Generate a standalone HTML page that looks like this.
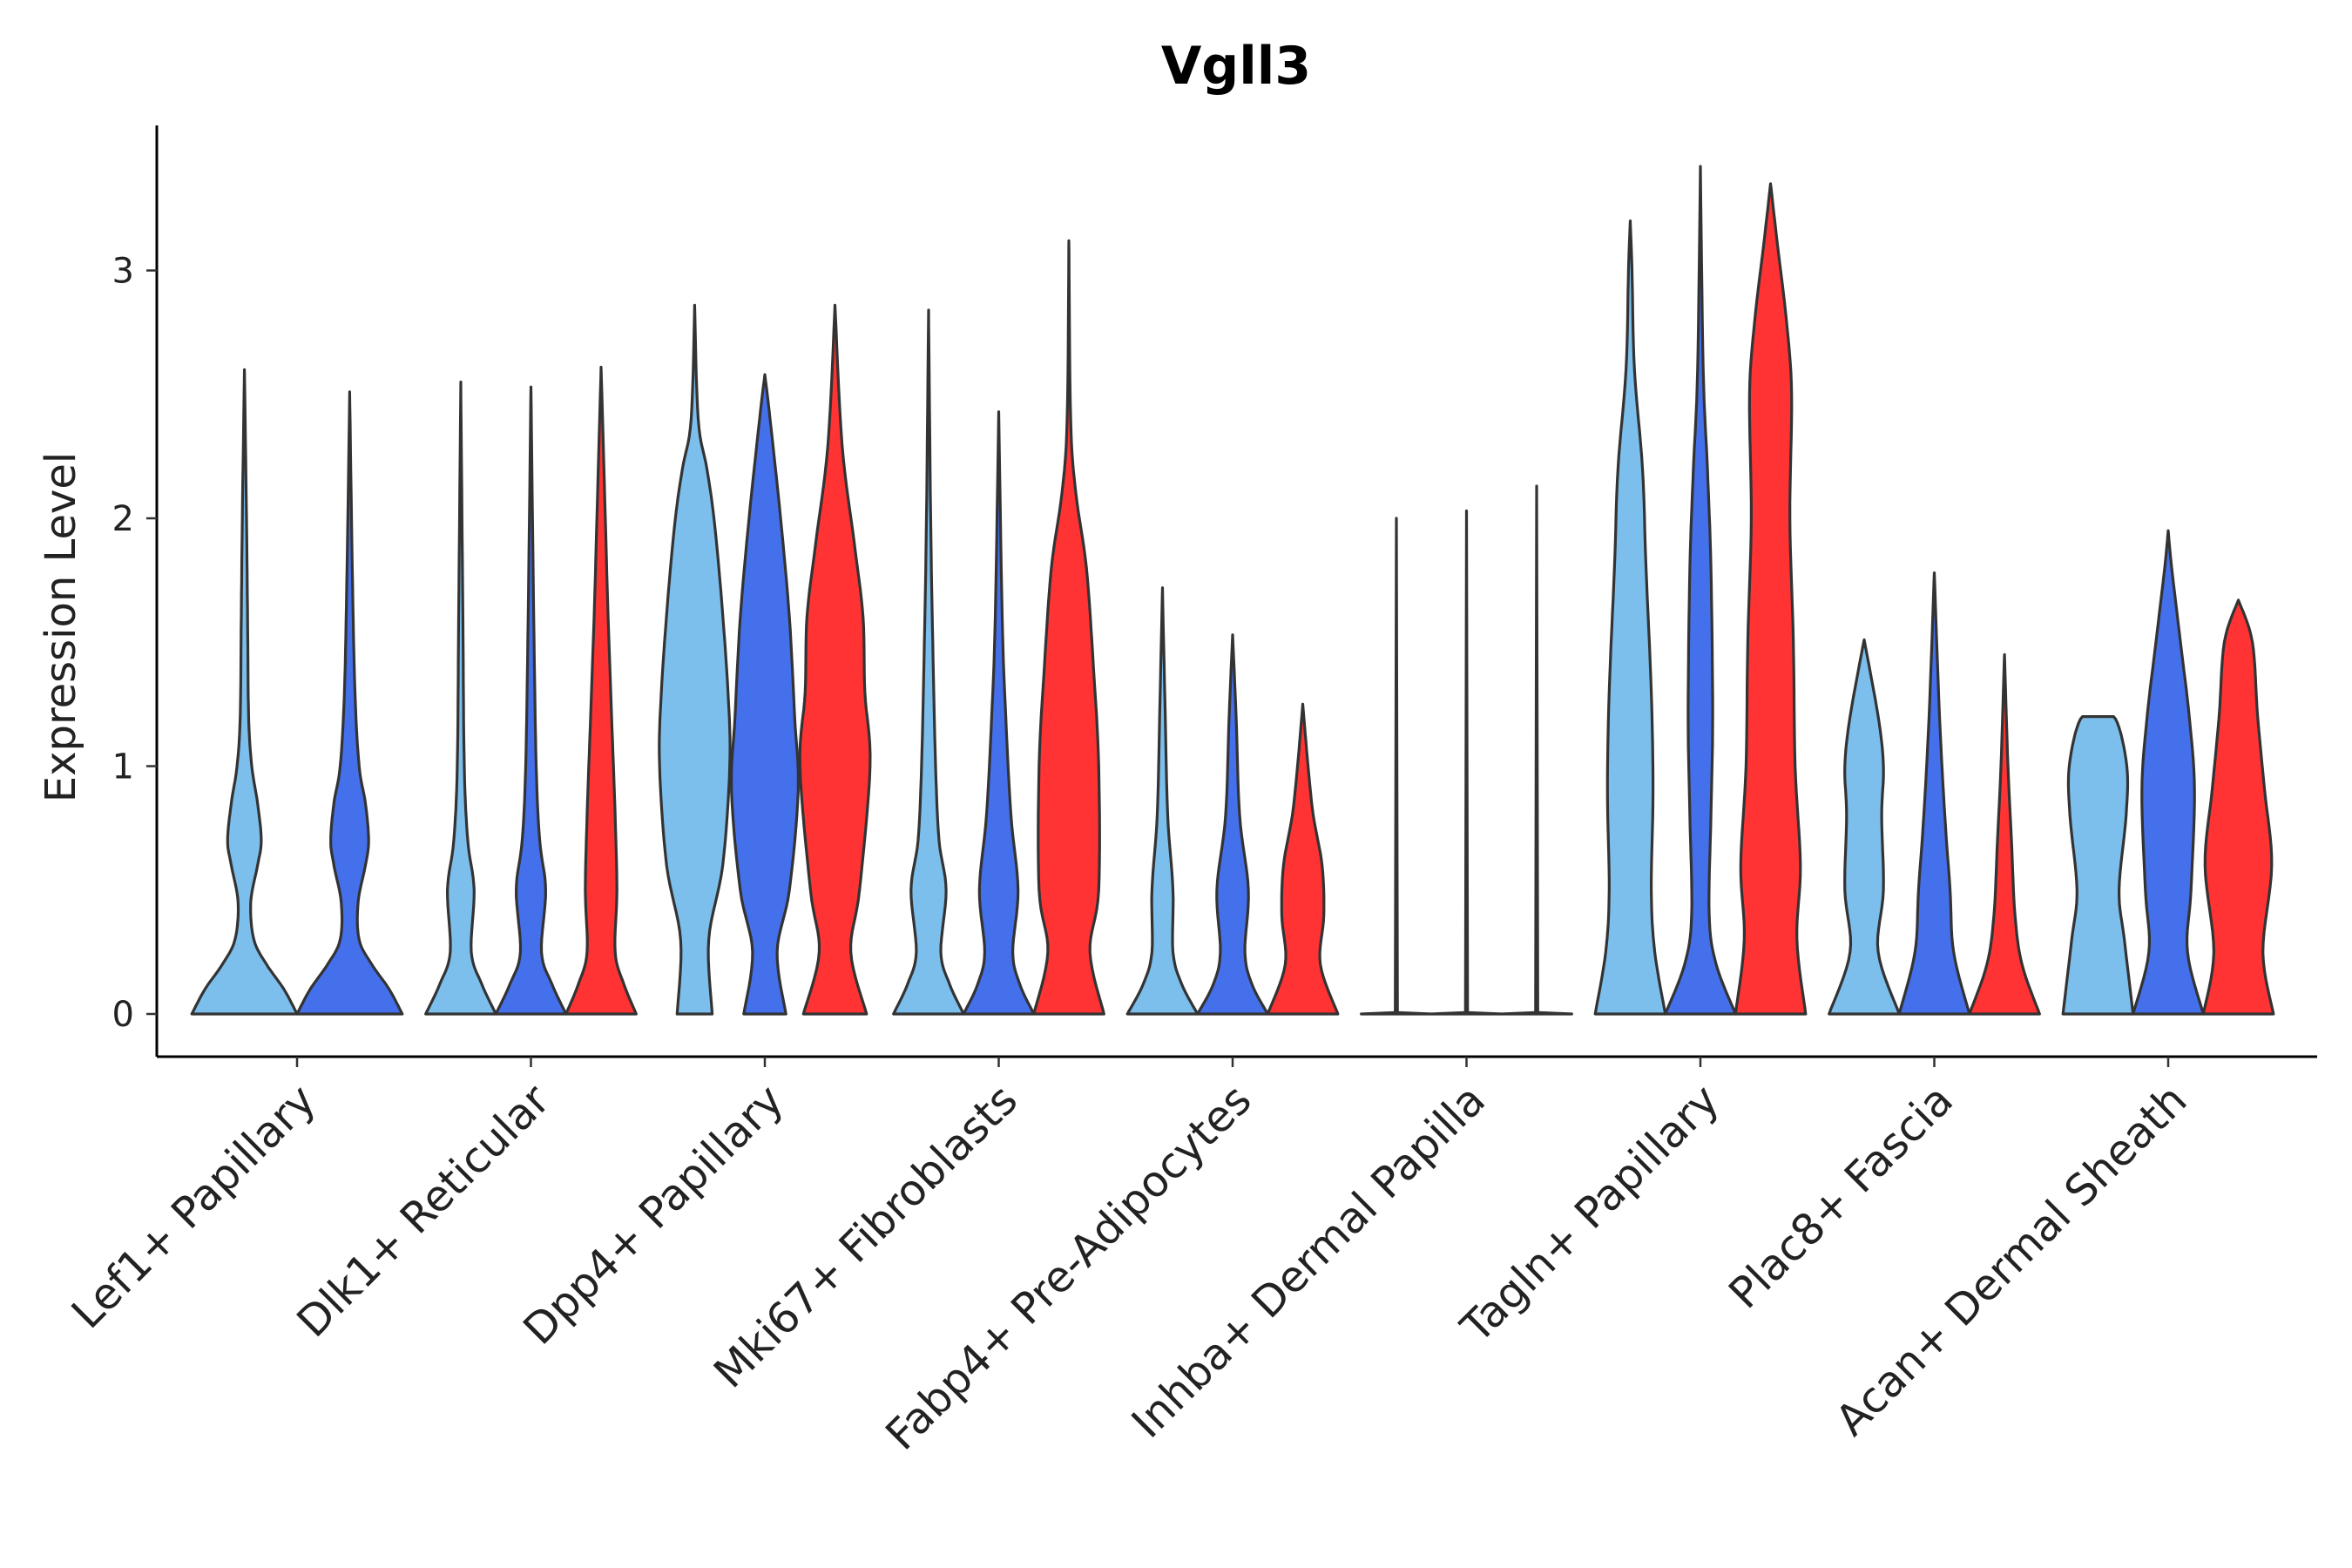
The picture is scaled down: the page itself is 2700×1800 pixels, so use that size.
<!DOCTYPE html>
<html><head><meta charset="utf-8"><style>
html,body{margin:0;padding:0;background:#fff}
svg{display:block;font-family:"DejaVu Sans","Liberation Sans",sans-serif}
</style></head><body>
<svg id="chart" width="2700" height="1800" viewBox="0 0 2700 1800">
<text x="1419" y="96" font-size="60" font-weight="bold" text-anchor="middle">Vgll3</text>
<text transform="translate(86,720) rotate(-90)" font-size="48" text-anchor="middle" fill="#222">Expression Level</text>
<g id="axes"></g>
<g id="violins"></g>
</svg>
<script>
const categories=["Lef1+ Papillary","Dlk1+ Reticular","Dpp4+ Papillary","Mki67+ Fibroblasts","Fabp4+ Pre-Adipocytes","Inhba+ Dermal Papilla","Tagln+ Papillary","Plac8+ Fascia","Acan+ Dermal Sheath"];
const seriesNames=["light-blue","blue","red"];
const seriesColors=["#7DBFEC","#4570EC","#FF3333"];
const yTicks=[0,1,2,3];
const lef1=[[[0,1],[0.1,0.75],[0.2,0.42],[0.3,0.18],[0.45,0.12],[0.6,0.25],[0.7,0.32],[0.85,0.25],[1.0,0.14],[1.2,0.08],[1.6,0.06],[2.0,0.04],[2.6,0]],
 [[0,1],[0.1,0.75],[0.2,0.42],[0.3,0.18],[0.45,0.16],[0.6,0.3],[0.7,0.36],[0.85,0.3],[1.0,0.18],[1.3,0.1],[1.8,0.05],[2.51,0]],null];
const dlk1=[[[0,1],[0.12,0.6],[0.25,0.3],[0.5,0.38],[0.7,0.2],[1.0,0.1],[1.6,0.06],[2.55,0]],
 [[0,1],[0.12,0.6],[0.25,0.3],[0.5,0.42],[0.7,0.25],[1.0,0.15],[1.6,0.08],[2.53,0]],
 [[0,1],[0.12,0.65],[0.25,0.4],[0.5,0.45],[0.8,0.4],[1.2,0.3],[1.6,0.2],[2.0,0.12],[2.61,0]]];
const dpp4=[[[0,0.5],[0.3,0.4],[0.6,0.8],[1.0,1.0],[1.3,0.95],[1.7,0.75],[2.0,0.55],[2.2,0.35],[2.4,0.1],[2.86,0]],
 [[0,0.6],[0.25,0.35],[0.5,0.7],[0.9,0.95],[1.2,0.85],[1.6,0.7],[2.0,0.45],[2.4,0.15],[2.58,0]],
 [[0,0.9],[0.25,0.45],[0.5,0.7],[1.0,1.0],[1.3,0.85],[1.6,0.8],[1.9,0.55],[2.3,0.2],[2.86,0]]];
const mki67=[[[0,1],[0.12,0.6],[0.25,0.35],[0.5,0.5],[0.7,0.3],[1.0,0.2],[1.5,0.12],[2.0,0.06],[2.84,0]],
 [[0,1],[0.12,0.6],[0.25,0.4],[0.5,0.55],[0.8,0.35],[1.2,0.2],[1.6,0.1],[2.43,0]],
 [[0,1],[0.25,0.6],[0.5,0.85],[1.0,0.85],[1.4,0.7],[1.8,0.5],[2.1,0.2],[2.4,0.05],[3.12,0]]];
const fabp4=[[[0,1],[0.12,0.55],[0.25,0.3],[0.5,0.3],[0.8,0.15],[1.2,0.08],[1.72,0]],
 [[0,1],[0.12,0.55],[0.25,0.35],[0.5,0.45],[0.8,0.2],[1.2,0.1],[1.53,0]],
 [[0,1],[0.2,0.5],[0.4,0.6],[0.6,0.55],[0.8,0.3],[1.0,0.15],[1.25,0]]];
const inhba=[[[0,1],[0.006,0.03],[2.0,0]],[[0,1],[0.006,0.03],[2.03,0]],[[0,1],[0.006,0.03],[2.13,0]]];
const tagln=[[[0,1],[0.25,0.7],[0.5,0.6],[0.9,0.65],[1.3,0.6],[1.8,0.45],[2.2,0.35],[2.6,0.12],[3.0,0.05],[3.2,0]],
 [[0,1],[0.2,0.45],[0.4,0.25],[0.8,0.3],[1.2,0.35],[1.8,0.3],[2.2,0.2],[2.6,0.08],[3.42,0]],
 [[0,1],[0.3,0.75],[0.6,0.85],[1.0,0.7],[1.5,0.65],[2.0,0.55],[2.5,0.6],[2.8,0.45],[3.1,0.2],[3.35,0]]];
const plac8=[[[0,1],[0.25,0.4],[0.5,0.55],[0.8,0.5],[1.0,0.55],[1.2,0.4],[1.51,0]],
 [[0,1],[0.25,0.55],[0.5,0.45],[0.8,0.3],[1.2,0.15],[1.78,0]],
 [[0,1],[0.2,0.5],[0.4,0.3],[0.7,0.2],[1.0,0.1],[1.45,0]]];
const acan=[[[0,1],[0.3,0.75],[0.5,0.6],[0.8,0.8],[1.0,0.82],[1.19,0.5],[1.2,0]],
 [[0,1],[0.25,0.55],[0.5,0.65],[0.9,0.75],[1.2,0.6],[1.5,0.35],[1.8,0.1],[1.95,0]],
 [[0,1],[0.25,0.7],[0.6,0.95],[0.9,0.75],[1.2,0.55],[1.5,0.4],[1.67,0]]];
const profiles=[lef1,dlk1,dpp4,mki67,fabp4,inhba,tagln,plac8,acan];

const NS="http://www.w3.org/2000/svg";
const y0px=1164, unitPx=284.5;
function yScale(v){return y0px-v*unitPx;}
const band=268.5, x0=341;
function xScale(i){return x0+i*band;}
const groupW=band*0.9;
function mk(tag,attrs,parent){const e=document.createElementNS(NS,tag);for(const k in attrs)e.setAttribute(k,attrs[k]);parent.appendChild(e);return e;}

const ax=document.getElementById('axes');
const yAxis=mk('line',{x1:180,y1:144,x2:180,y2:1213,stroke:'#000','stroke-width':3},ax);


const xAxis=mk('line',{x1:180,y1:1213,x2:2660,y2:1213,stroke:'#000','stroke-width':3},ax);


yTicks.forEach(t=>{
  const tk=mk('line',{x1:168,x2:180,y1:yScale(t),y2:yScale(t),stroke:'#333','stroke-width':2.5},ax);
  
  
  const tl=mk('text',{x:154,y:yScale(t)+14,'font-size':40,'text-anchor':'end',fill:'#222'},ax);
  tl.textContent=t;
  
  
});
categories.forEach((c,i)=>{
  const cx=xScale(i);
  const tk=mk('line',{x1:cx,x2:cx,y1:1213,y2:1225,stroke:'#333','stroke-width':2.5},ax);
  
  
  const tl=mk('text',{transform:`translate(${cx+24},${1266}) rotate(-45)`,'font-size':49,'text-anchor':'end',fill:'#222'},ax);
  tl.textContent=c;
  
  
});

function smoothPts(pts){
  const out=[];
  for(let i=0;i<pts.length-1;i++){
    const p0=pts[Math.max(0,i-1)],p1=pts[i],p2=pts[i+1],p3=pts[Math.min(pts.length-1,i+2)];
    for(let s=0;s<8;s++){const t=s/8,t2=t*t,t3=t2*t;
      const f=(a,b,c,d)=>0.5*((2*b)+(-a+c)*t+(2*a-5*b+4*c-d)*t2+(-a+3*b-3*c+d)*t3);
      let yy=f(p0[0],p1[0],p2[0],p3[0]);
      yy=Math.min(Math.max(yy,p1[0]),p2[0]);
      out.push([yy,Math.max(0,f(p0[1],p1[1],p2[1],p3[1]))]);}
  }
  out.push(pts[pts.length-1]);return out;
}
const vg=document.getElementById('violins');
profiles.forEach((grp,i)=>{
  const present=grp.map((p,k)=>p?k:-1).filter(k=>k>=0);
  const n=present.length, slot=groupW/n;
  present.forEach((k,j)=>{
    const cx=xScale(i)-groupW/2+slot*(j+0.5), hw=slot/2;
    const pts=grp[k].length<4?grp[k]:smoothPts(grp[k]);
    let d='';
    pts.forEach((p,m)=>{d+=(m?'L':'M')+(cx+p[1]*hw).toFixed(1)+','+yScale(p[0]).toFixed(1);});
    for(let m=pts.length-1;m>=0;m--){const p=pts[m];d+='L'+(cx-p[1]*hw).toFixed(1)+','+yScale(p[0]).toFixed(1);}
    d+='Z';
    const v=mk('path',{d:d,fill:seriesColors[k],stroke:'#333','stroke-width':3.2,'stroke-linejoin':'round'},vg);
    
    
  });
});
</script>
</body></html>
